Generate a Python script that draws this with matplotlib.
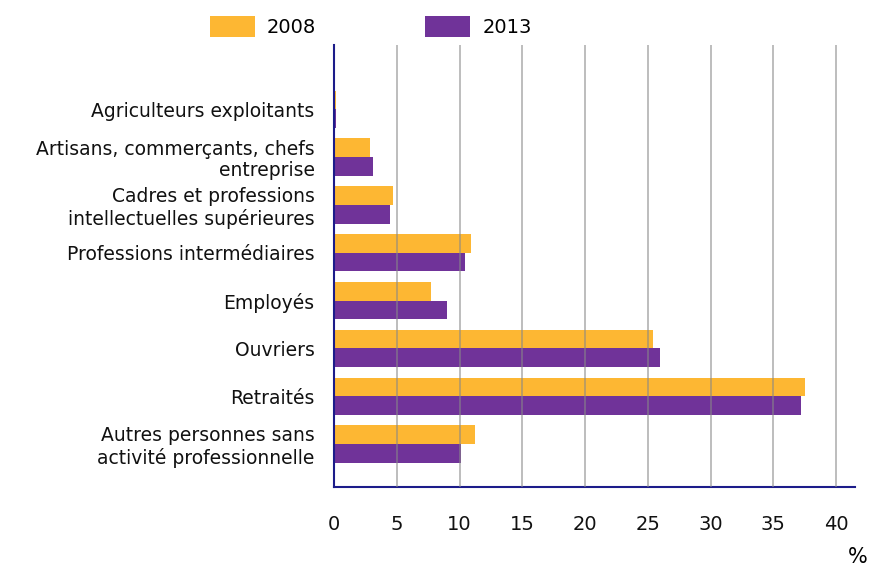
import matplotlib.pyplot as plt
import numpy as np

categories = [
    "Agriculteurs exploitants",
    "Artisans, commerçants, chefs\nentreprise",
    "Cadres et professions\nintellectuelles supérieures",
    "Professions intermédiaires",
    "Employés",
    "Ouvriers",
    "Retraités",
    "Autres personnes sans\nactivité professionnelle",
]
values_2008 = [0.2, 2.9, 4.7, 10.9, 7.7, 25.4, 37.5, 11.2]
values_2013 = [0.2, 3.1, 4.5, 10.4, 9.0, 26.0, 37.2, 10.1]
x_ticks = [0, 5, 10, 15, 20, 25, 30, 35, 40]

ORANGE = "#FDB733"
PURPLE = "#703399"
NAVY = "#1c1c8a"

plt.rcParams["font.family"] = ["DejaVu Sans"]
plt.rcParams["font.size"] = 13.5

fig = plt.figure(figsize=(8.75, 5.72), dpi=100)
ax = fig.add_axes([0.3817, 0.1486, 0.977 - 0.3817, 0.921 - 0.1486])

y = np.arange(len(categories))
h = 0.39
ax.barh(y - h / 2, values_2008, height=h, color=ORANGE, label="2008", zorder=2)
ax.barh(y + h / 2, values_2013, height=h, color=PURPLE, label="2013", zorder=2)

ax.set_ylim(len(categories) - 1 + 0.9, -1.34)
ax.set_xlim(0, 41.5)
ax.set_yticks(y)
ax.set_yticklabels(categories, ha="right", linespacing=1.15, fontsize=13.5)
ax.set_xticks(x_ticks)
ax.tick_params(axis="both", length=0, colors="#111111")
ax.tick_params(axis="x", labelsize=14, pad=20)
ax.tick_params(axis="y", pad=14)

for xv in x_ticks[1:]:
    ax.axvline(xv, color="#888888", lw=1.3, alpha=0.6, zorder=3)

for side in ["top", "right"]:
    ax.spines[side].set_visible(False)
ax.spines["left"].set_color(NAVY)
ax.spines["bottom"].set_color(NAVY)
ax.spines["left"].set_linewidth(1.5)
ax.spines["bottom"].set_linewidth(1.5)
ax.spines["left"].set_zorder(4)

fig.text(858 / 875, 1 - 557 / 572, "%", ha="center", va="center", fontsize=15)

fig.legend(
    loc="upper left",
    bbox_to_anchor=(0.222, 1.0),
    ncol=2,
    frameon=False,
    handlelength=2.32,
    handleheight=1.34,
    handletextpad=0.62,
    columnspacing=5.6,
    fontsize=14,
    borderaxespad=0.4,
)

fig.savefig("out.png", dpi=100)
